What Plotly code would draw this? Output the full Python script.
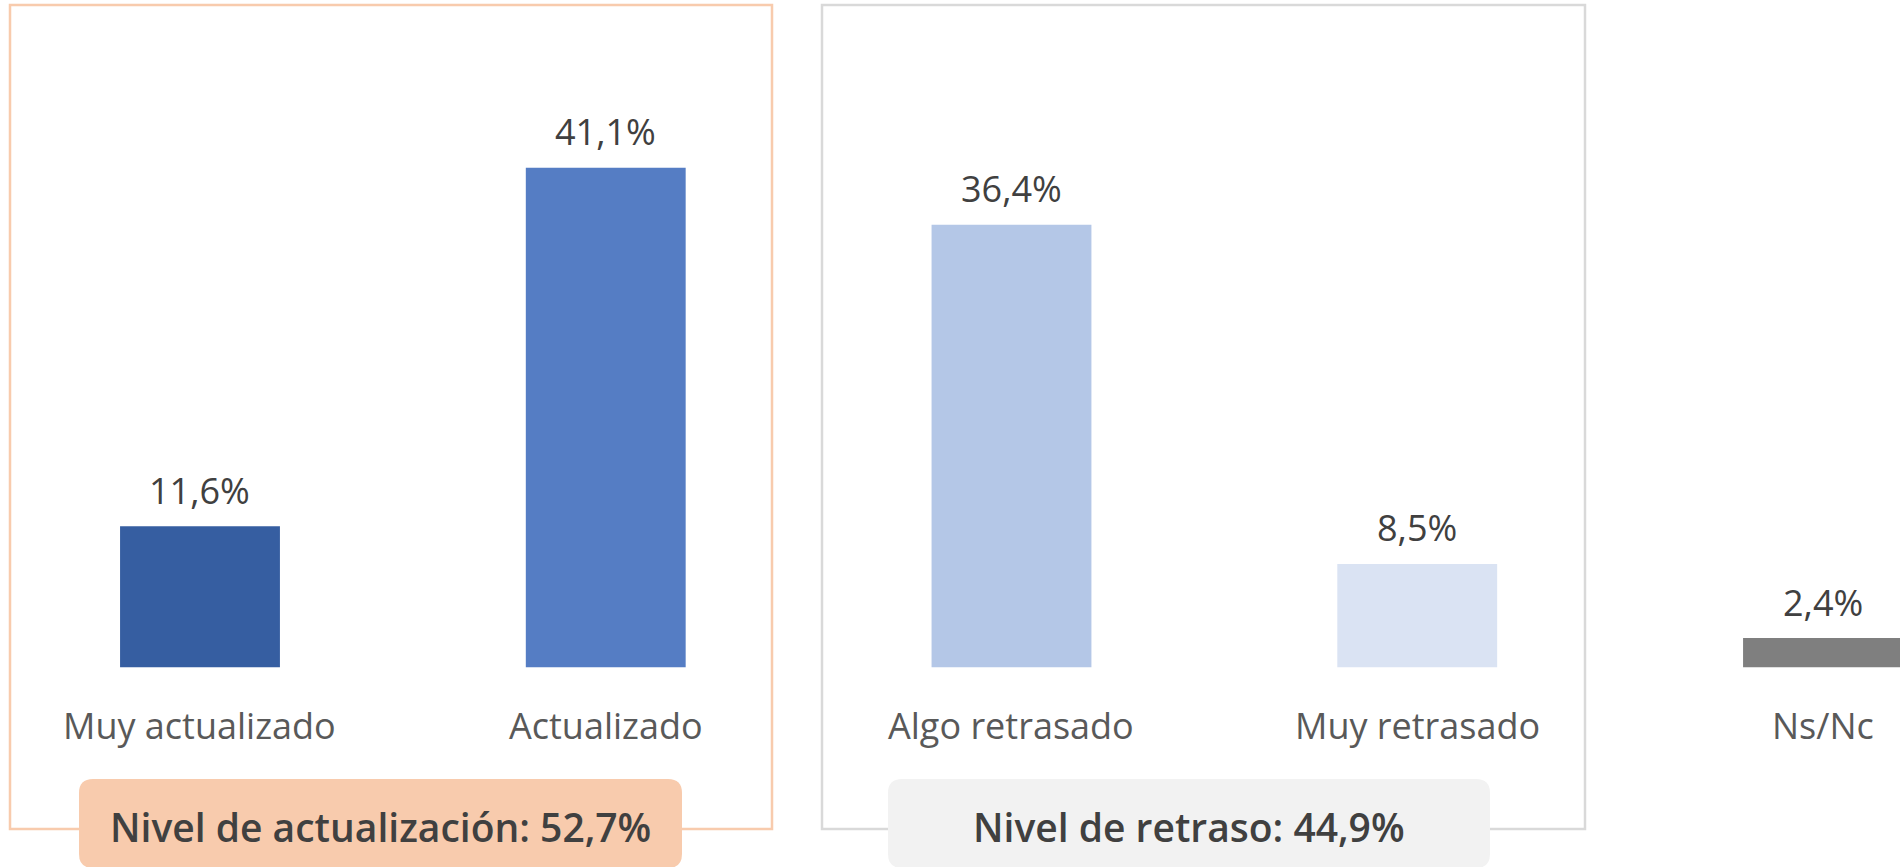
import plotly.graph_objects as go

categories = ["Muy actualizado", "Actualizado", "Algo retrasado", "Muy retrasado", "Ns/Nc"]
values = [11.6, 41.1, 36.4, 8.5, 2.4]
value_labels = ["11,6%", "41,1%", "36,4%", "8,5%", "2,4%"]
bar_colors = ["#365EA1", "#557DC4", "#B4C7E7", "#DAE3F3", "#7F7F7F"]
group_labels = ["Nivel de actualización: 52,7%", "Nivel de retraso: 44,9%"]

W, H = 1900, 867
FONT = "Open Sans"

fig = go.Figure()
fig.add_trace(go.Bar(
    x=list(range(len(categories))), y=values,
    marker=dict(color=bar_colors, line=dict(width=0)),
    width=0.394, hoverinfo="skip", showlegend=False,
))

for i, (v, lab, cat) in enumerate(zip(values, value_labels, categories)):
    fig.add_annotation(x=i, y=v, text=lab, showarrow=False, yanchor="middle",
                       yshift=36, font=dict(family=FONT, size=36, color="#404040"))
    fig.add_annotation(x=i, y=0, text=cat, showarrow=False, yanchor="middle",
                       yshift=-58, font=dict(family=FONT, size=36, color="#595959"))


def px(x):
    return x / W


def py(y):
    return 1 - y / H


def rounded(x0, y0, x1, y1, r):
    rx, ry = r / W, r / H
    X0, X1, Y0, Y1 = px(x0), px(x1), py(y0), py(y1)
    return (f"M {X0+rx},{Y0} L {X1-rx},{Y0} Q {X1},{Y0} {X1},{Y0-ry} "
            f"L {X1},{Y1+ry} Q {X1},{Y1} {X1-rx},{Y1} L {X0+rx},{Y1} "
            f"Q {X0},{Y1} {X0},{Y1+ry} L {X0},{Y0-ry} Q {X0},{Y0} {X0+rx},{Y0} Z")


# group frames
fig.add_shape(type="rect", xref="paper", yref="paper", x0=px(10), x1=px(772), y0=py(5), y1=py(829),
              line=dict(color="#F8CBAD", width=2.5), fillcolor="rgba(0,0,0,0)", layer="below")
fig.add_shape(type="rect", xref="paper", yref="paper", x0=px(822), x1=px(1585), y0=py(5), y1=py(829),
              line=dict(color="#D9D9D9", width=2.5), fillcolor="rgba(0,0,0,0)", layer="below")

# label boxes
boxes = [(79, 682, "#F8CBAD"), (888, 1490, "#F2F2F2")]
for (x0, x1, col), txt in zip(boxes, group_labels):
    fig.add_shape(type="path", xref="paper", yref="paper", path=rounded(x0, 779, x1, 868, 14),
                  fillcolor=col, line=dict(width=0), layer="above")
    fig.add_annotation(xref="paper", yref="paper", x=px((x0 + x1) / 2), y=py(826), text=txt,
                       showarrow=False, yanchor="middle", xanchor="center",
                       font=dict(family=FONT, size=39, color="#404040", weight=600))

fig.update_layout(
    width=W, height=H, margin=dict(l=0, r=0, t=0, b=0),
    paper_bgcolor="white", plot_bgcolor="white",
    xaxis=dict(range=[-0.4929, 4.1898], visible=False, fixedrange=True),
    yaxis=dict(range=[-16.43, 54.895], visible=False, fixedrange=True),
    showlegend=False,
)
fig.write_html("out.html", config={"displayModeBar": False},
               post_script="document.body.style.margin='0';document.body.style.overflow='hidden';")
